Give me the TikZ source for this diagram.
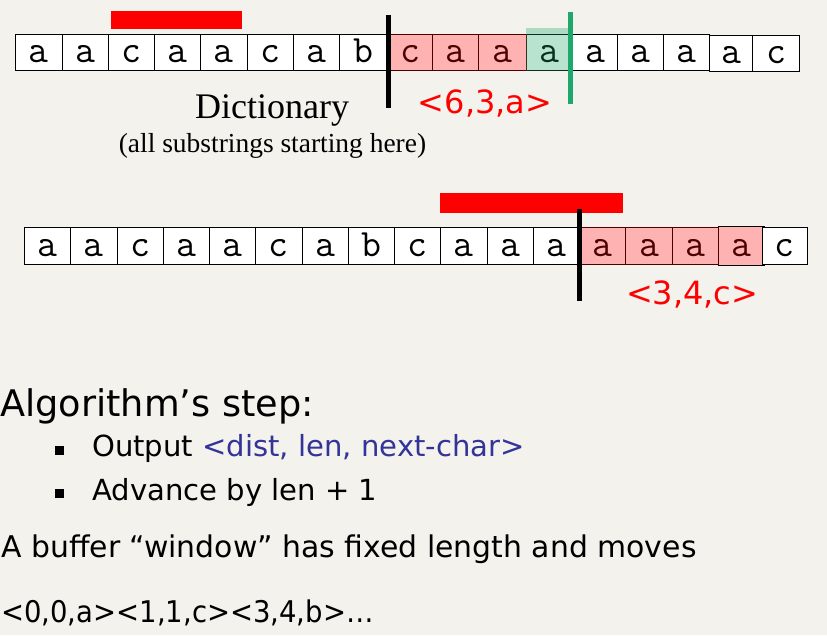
\documentclass[tikz,border=0pt]{standalone}
\usepackage{fontspec}
\setmainfont{Liberation Serif}
\newfontfamily\lucida{DejaVu Sans}
\definecolor{bg}{RGB}{243,242,236}
\definecolor{hlred}{RGB}{255,0,0}
\definecolor{hlgreen}{RGB}{18,165,98}
\definecolor{lzgreen}{RGB}{30,168,110}
\definecolor{lzblue}{RGB}{51,51,153}
\tikzset{
  cellbox/.style={draw=black, line width=0.75pt, fill=white, inner sep=0pt,
    font=\ttfamily\fontsize{29}{29}\selectfont, text height=15.4pt, text depth=0pt},
  marker/.style={line width=3.4pt},
  redlabel/.style={text=red, font=\lucida\fontsize{24}{24}\selectfont, inner sep=0pt, anchor=base},
  serif/.style={inner sep=0pt, anchor=base},
  body/.style={inner sep=0pt, anchor=base west},
  bulletsq/.style={fill=black},
}
\begin{document}
\begin{tikzpicture}[x=0.75pt,y=-0.75pt]
\useasboundingbox (0,0) rectangle (827,635);
\fill[bg] (0,0) rectangle (827,635);

% top row
\foreach \c/\l/\r/\tp/\bt [count=\i] in {
  a/15.3/62.3/34.3/71, a/62.3/108.3/34.3/71, c/108.3/154.3/34.3/71,
  a/154.3/200.3/34.3/71, a/200.3/247.3/34.3/71, c/247.3/293.3/34.3/71,
  a/293.3/339.3/34.3/71, b/339.3/387.3/34.3/71, c/387.3/432.7/34.3/71,
  a/432.7/478.7/34.3/71, a/478.7/526.7/34.3/71, a/526.7/572.7/34.3/71,
  a/572.7/617.3/34.3/71, a/617.3/663.3/34.3/71, a/663.3/709.3/34.3/71,
  a/709.3/752.7/35.3/72, c/752.7/799.3/35.3/72}
  \node[cellbox, minimum width={(\r-\l)*0.75pt}, minimum height={(\bt-\tp)*0.75pt}]
    (t\i) at ({(\l+\r)/2},{(\tp+\bt)/2}) {\c};

% bottom row
\foreach \c/\l/\r/\tp/\bt [count=\i] in {
  a/24.3/70.3/227.3/264.3, a/70.3/117.3/227.3/264.3, c/117.3/163.3/227.3/264.3,
  a/163.3/209.3/227.3/264.3, a/209.3/255.3/227.3/264.3, c/255.3/302.3/227.3/264.3,
  a/302.3/348.3/227.3/264.3, b/348.3/394.3/227.3/264.3, c/394.3/440.3/227.3/264.3,
  a/440.3/487.3/227.3/264.3, a/487.3/533.3/227.3/264.3, a/533.3/579.5/227.3/264.3,
  a/579.5/625.7/227.3/264.3, a/625.7/672.3/227.3/264.3, a/672.3/718.7/227.3/264.3,
  a/718.7/764/226.5/265.2, c/762/807.3/227.3/264.3}
  \node[cellbox, minimum width={(\r-\l)*0.75pt}, minimum height={(\bt-\tp)*0.75pt}]
    (b\i) at ({(\l+\r)/2},{(\tp+\bt)/2}) {\c};

% highlights
\coordinate (gtop) at (0,28);
\fill[hlred, opacity=0.3] (t9.north west) rectangle (t11.south east);
\fill[hlgreen, opacity=0.3] (t12.south west) rectangle (t12.east |- gtop);
\fill[hlred, opacity=0.3] (b13.north west) rectangle (b17.south west);

% red bars
\fill[hlred] (111,11) rectangle (241.7,28.7);
\fill[hlred] (440,192.7) rectangle (622.7,212.7);

% marker lines
\coordinate (k1a) at (388.3,15.3);
\coordinate (k1b) at (388.3,107.7);
\coordinate (g1a) at (570.7,11.7);
\coordinate (g1b) at (570.7,104);
\coordinate (k2a) at (579.3,209.3);
\coordinate (k2b) at (579.3,300.7);
\draw[marker, black] (k1a) -- (k1b);
\draw[marker, lzgreen] (g1a) -- (g1b);
\draw[marker, black] (k2a) -- (k2b);

% labels
\node[redlabel] (l1) at (485,113.3) {<6,3,a>};
\node[redlabel] (l2) at (692.2,304) {<3,4,c>};
\node[serif, font=\fontsize{27}{27}\selectfont] (dict) at (272,118) {Dictionary};
\node[serif, font=\fontsize{20.6}{20.6}\selectfont] (dsub) at (272.5,152) {(all substrings starting here)};

% text block
\node[body, font=\lucida\fontsize{27.5}{27.5}\selectfont] (alg) at (0,416) {Algorithm’s step:};
\fill[bulletsq] (55,446) rectangle (63.5,454.5);
\fill[bulletsq] (55,489) rectangle (63.5,497.5);
\node[body, font=\lucida\fontsize{21.8}{21.8}\selectfont] (out) at (92,456.5) {Output \textcolor{lzblue}{<dist, len, next-char>}};
\node[body, font=\lucida\fontsize{21.8}{21.8}\selectfont] (adv) at (92,500) {Advance by len + 1};
\node[body, font=\lucida\fontsize{22.4}{22.4}\selectfont] (buf) at (1,557) {A buffer “window” has fixed length and moves};
\node[body, font=\lucida\fontsize{22.4}{22.4}\selectfont] (seq) at (1,622) {\scalebox{0.92}[1]{<0,0,a><1,1,c><3,4,b>…}};
\end{tikzpicture}
\end{document}
